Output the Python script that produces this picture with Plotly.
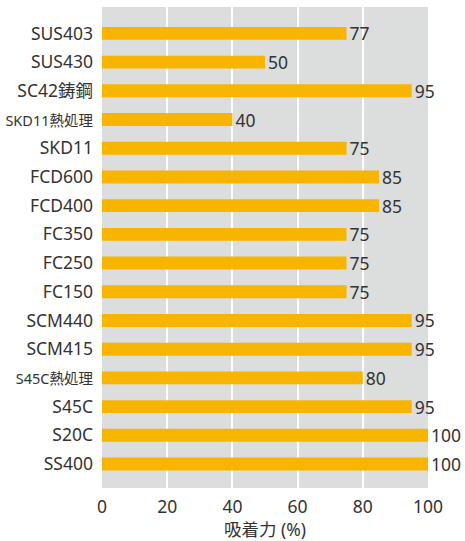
import plotly.graph_objects as go

categories = ["SUS403", "SUS430", "SC42鋳鋼", "SKD11熱処理", "SKD11", "FCD600", "FCD400",
              "FC350", "FC250", "FC150", "SCM440", "SCM415", "S45C熱処理", "S45C", "S20C", "SS400"]
bar_values = [75, 50, 95, 40, 75, 85, 85, 75, 75, 75, 95, 95, 80, 95, 100, 100]
value_labels = ["77", "50", "95", "40", "75", "85", "85", "75", "75", "75", "95", "95", "80", "95", "100", "100"]
x_ticks = [0, 20, 40, 60, 80, 100]

font_family = "Noto Sans, Noto Sans CJK JP, sans-serif"
text_color = "#333333"

cats = categories[::-1]
vals = bar_values[::-1]
labs = value_labels[::-1]


def tick_label(c):
    # long labels are condensed in the reference to fit the left margin
    if len(c) >= 7:
        return '<span style="font-size:14.5px">' + c + "</span>"
    return c


fig = go.Figure(go.Bar(
    y=cats, x=vals, orientation="h",
    marker=dict(color="#F7B500", line=dict(width=0)),
    width=0.45,
    text=labs, textposition="outside", cliponaxis=False, constraintext="none",
    textfont=dict(size=17.5, color=text_color, family=font_family),
    hoverinfo="skip",
))

fig.update_layout(
    width=465, height=541,
    margin=dict(l=102, r=37, t=7, b=53),
    paper_bgcolor="white", plot_bgcolor="#DCDDDD",
    font=dict(family=font_family, size=17.5, color=text_color),
    showlegend=False,
    xaxis=dict(range=[0, 100], tickvals=x_ticks, showgrid=True, gridcolor="white", gridwidth=2,
               zeroline=False, showline=False, ticks="", automargin=False,
               ticklabelstandoff=6,
               title=dict(text="吸着力 (%)", font=dict(size=17.5), standoff=5),
               tickfont=dict(size=17.5)),
    yaxis=dict(type="category", categoryorder="array", categoryarray=cats,
               tickvals=cats, ticktext=[tick_label(c) for c in cats],
               range=[-0.835, 15.92], showgrid=False, zeroline=False, ticks="",
               automargin=False, ticklabelstandoff=8, tickfont=dict(size=17.5)),
)

fig.write_html("out.html", config={"displayModeBar": False},
               post_script="document.body.style.margin='0';document.body.style.overflow='hidden';")
